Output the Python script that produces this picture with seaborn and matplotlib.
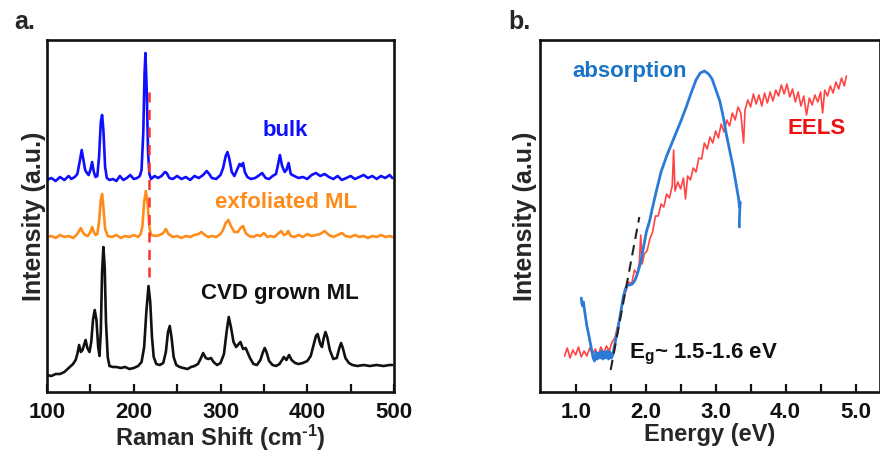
import matplotlib
matplotlib.use("Agg")
import matplotlib.pyplot as plt
import seaborn as sns

# Raman spectra (panel a), intensity in arbitrary units.
bulk_x = [100, 105, 110, 115, 120, 125, 128, 132, 135, 138, 140, 142, 144, 146, 148, 150, 152, 154, 156, 158,
          160, 162, 163.5, 165, 167, 169, 172, 176, 180, 184, 188, 192, 196, 200, 204, 207, 209, 211, 212.5, 213.5,
          215, 216.5, 218, 220, 224, 228, 232, 236, 238, 241, 245, 250, 255, 260, 265, 270, 275, 280, 284, 287,
          290, 295, 300, 303, 306, 308, 310, 313, 316, 319, 322, 324, 326, 328, 331, 335, 340, 345, 348, 352,
          356, 360, 364, 366, 368.5, 371, 374, 376, 378.5, 381, 385, 390, 395, 400, 405, 410, 415, 420, 425, 430,
          435, 440, 445, 450, 455, 460, 465, 470, 475, 480, 485, 490, 495, 498]
bulk_y = [212, 214, 211, 215, 212, 216, 213, 215, 218, 232, 242, 232, 222, 219, 217, 222, 230, 220, 215, 216,
          235, 270, 277, 262, 225, 214, 212, 213, 211, 216, 212, 214, 217, 213, 214, 216, 222, 260, 320, 339,
          300, 240, 218, 213, 216, 214, 216, 220, 219, 214, 213, 216, 213, 215, 212, 216, 214, 217, 221, 218,
          214, 213, 217, 224, 236, 240, 234, 220, 216, 222, 228, 226, 229, 220, 215, 213, 214, 217, 219, 214,
          213, 216, 218, 226, 237, 226, 220, 222, 229, 218, 216, 214, 215, 213, 217, 219, 216, 218, 215, 213,
          216, 212, 214, 216, 213, 215, 217, 214, 216, 213, 216, 214, 217, 214]

exf_x = [100, 105, 110, 115, 120, 125, 130, 134, 137, 139, 141, 144, 147, 150, 152, 154, 156, 158, 160, 162,
         163.5, 165, 167, 170, 175, 180, 185, 190, 195, 200, 205, 208, 210, 212, 214, 216, 218, 220, 225, 230,
         234, 237, 240, 245, 250, 255, 260, 265, 270, 275, 278, 282, 286, 290, 295, 300, 303, 306, 309, 312,
         316, 320, 323, 326, 329, 333, 338, 342, 346, 350, 354, 358, 362, 366, 370, 373, 376, 378, 381, 385,
         390, 395, 400, 405, 410, 415, 420, 425, 430, 435, 440, 444, 450, 455, 460, 465, 470, 475, 480, 485,
         490, 495, 498]
exf_y = [155, 156, 154, 157, 155, 156, 154, 157, 161, 164, 160, 157, 156, 160, 165, 160, 157, 158, 170, 192,
         198, 185, 163, 156, 155, 157, 154, 156, 155, 157, 155, 158, 166, 190, 201, 188, 165, 157, 156, 157,
         159, 163, 158, 155, 156, 154, 156, 155, 157, 158, 160, 157, 155, 156, 155, 158, 162, 169, 172, 166,
         160, 160, 164, 166, 159, 156, 155, 157, 156, 159, 155, 156, 155, 158, 161, 157, 158, 161, 156, 155,
         157, 155, 158, 156, 157, 158, 161, 157, 155, 157, 159, 156, 155, 157, 155, 156, 154, 156, 155, 157,
         155, 156, 155]

cvd_x = [100, 105, 110, 115, 120, 125, 130, 133, 135, 137, 139, 141, 143, 144.5, 146.5, 149, 151, 153, 155, 157,
         159, 160.5, 162, 163.5, 165, 166.5, 168, 170, 172, 176, 180, 185, 190, 195, 200, 205, 209, 212, 214.5,
         217, 219, 221, 223, 226, 230, 234, 237, 239.5, 241.5, 243.5, 246, 249, 253, 257, 262, 266, 270, 274,
         277, 280, 283, 286, 289, 292, 296, 300, 304, 307, 309.5, 312, 315, 318, 321, 323, 326, 329, 331, 334,
         338, 342, 346, 349, 351, 353, 356, 360, 364, 368, 371, 373, 376, 379, 382, 386, 390, 395, 400, 404,
         407, 410, 412, 415, 417, 419, 421, 423, 426, 430, 434, 437, 439, 441, 444, 448, 452, 458, 465, 472,
         480, 488, 495, 498]
cvd_y = [17, 16, 18, 18, 20, 24, 28, 32, 38, 47, 40, 42, 48, 52, 44, 40, 50, 72, 82, 72,
         45, 36, 60, 120, 145, 125, 70, 35, 26, 25, 25, 24, 25, 23, 24, 26, 30, 45, 80,
         106, 90, 55, 35, 28, 27, 29, 40, 60, 66, 55, 35, 27, 25, 24, 23, 25, 26, 28,
         33, 39, 34, 33, 34, 30, 27, 29, 38, 60, 75, 65, 50, 45, 48, 50, 43, 44, 40, 34,
         28, 27, 32, 40, 44, 40, 31, 27, 26, 28, 32, 35, 32, 37, 32, 29, 28, 29, 31, 36,
         46, 56, 58, 48, 45, 54, 60, 55, 42, 33, 34, 44, 49, 44, 34, 29, 27, 26, 27, 26,
         27, 26, 27, 27]

ag_shift = 218           # dashed marker position (cm-1)
ag_span = [115, 305]     # dashed marker vertical extent (a.u.)

# Absorption / EELS (panel b)
abs_x = [1.08, 1.09, 1.10, 1.11, 1.13, 1.16, 1.19, 1.22, 1.25, 1.27, 1.29, 1.31, 1.33, 1.35, 1.37, 1.39, 1.41,
         1.43, 1.45, 1.47, 1.49, 1.51, 1.53, 1.56, 1.60, 1.64, 1.68, 1.71, 1.74, 1.77, 1.81, 1.85, 1.89, 1.93,
         1.97, 2.01, 2.06, 2.10, 2.15, 2.22, 2.30, 2.37, 2.44, 2.51, 2.58, 2.65, 2.72, 2.78, 2.84, 2.90, 2.95,
         3.00, 3.06, 3.11, 3.15, 3.20, 3.25, 3.30, 3.33, 3.34, 3.35, 3.34, 3.34]
abs_y = [94, 88, 86, 90, 80, 66, 56, 45, 34, 31, 40, 33, 39, 34, 41, 33, 40, 34, 41, 33, 40, 34, 37, 48,
         62, 78, 95, 103, 107, 107, 108, 112, 120, 130, 145, 160, 172, 185, 200, 220, 236, 248, 260, 272,
         285, 299, 312, 319, 321, 318, 313, 303, 291, 275, 259, 242, 225, 205, 193, 185, 190, 172, 165]

eels_x = [0.84, 0.88, 0.92, 0.96, 1.00, 1.04, 1.08, 1.12, 1.16, 1.20, 1.24, 1.28, 1.32, 1.36, 1.40, 1.44, 1.48,
          1.52, 1.56, 1.60, 1.64, 1.68, 1.72, 1.76, 1.80, 1.84, 1.88, 1.91, 1.93, 1.95, 1.98, 2.02, 2.06, 2.10,
          2.14, 2.18, 2.22, 2.26, 2.30, 2.34, 2.38, 2.40, 2.42, 2.46, 2.50, 2.54, 2.57, 2.60, 2.64, 2.68, 2.72,
          2.76, 2.80, 2.84, 2.88, 2.92, 2.96, 3.00, 3.04, 3.08, 3.12, 3.16, 3.20, 3.24, 3.28, 3.32, 3.36, 3.40,
          3.42, 3.46, 3.50, 3.54, 3.58, 3.62, 3.66, 3.70, 3.74, 3.78, 3.82, 3.86, 3.90, 3.94, 3.98, 4.02, 4.06,
          4.10, 4.14, 4.18, 4.22, 4.26, 4.30, 4.34, 4.38, 4.42, 4.46, 4.50, 4.53, 4.56, 4.60, 4.64, 4.68, 4.72,
          4.76, 4.80, 4.84, 4.87]
eels_y = [36, 44, 34, 42, 37, 45, 35, 41, 36, 44, 38, 43, 36, 45, 39, 46, 41, 50, 54, 66, 76, 95, 101, 110,
          108, 122, 118, 130, 157, 128, 138, 141, 153, 160, 176, 176, 188, 185, 198, 194, 206, 242, 201, 210,
          203, 214, 193, 216, 212, 224, 220, 234, 233, 249, 243, 255, 249, 261, 254, 268, 260, 272, 266, 279,
          272, 285, 279, 249, 282, 292, 285, 298, 288, 297, 286, 299, 289, 300, 291, 302, 296, 307, 298, 308,
          295, 303, 290, 300, 286, 296, 277, 294, 287, 297, 290, 300, 279, 302, 296, 306, 299, 310, 303, 314,
          306, 316]

tangent_x = [1.50, 1.91]
tangent_y = [22, 175]

sns.set_theme(style="white")
plt.rcParams["font.family"] = ["Liberation Sans", "DejaVu Sans"]
plt.rcParams["font.weight"] = "bold"
plt.rcParams["mathtext.default"] = "regular"

fig = plt.figure(figsize=(8.8, 4.55), dpi=100)
ax1 = fig.add_axes([47 / 880, 1 - 392 / 455, 347 / 880, 352 / 455])
ax2 = fig.add_axes([540 / 880, 1 - 392 / 455, 340 / 880, 352 / 455])

# --- panel a
sns.lineplot(x=bulk_x, y=bulk_y, ax=ax1, color="#0f0fff", lw=1.9, sort=False, estimator=None)
sns.lineplot(x=exf_x, y=exf_y, ax=ax1, color="#ff8c1a", lw=1.9, sort=False, estimator=None)
sns.lineplot(x=cvd_x, y=cvd_y, ax=ax1, color="#111111", lw=1.9, sort=False, estimator=None)
ax1.plot([ag_shift, ag_shift], ag_span, color="#ff3030", lw=1.8, ls=(0, (4, 3)))

ax1.text(349, 262, "bulk", color="#0f0fff", fontsize=16, fontweight="bold", va="center")
ax1.text(294, 190, "exfoliated ML", color="#ff8c1a", fontsize=16, fontweight="bold", va="center")
ax1.text(278, 98, "CVD grown ML", color="#111111", fontsize=16, fontweight="bold", va="center")

ax1.set_xlim(100, 500)
ax1.set_ylim(0, 352)
ax1.set_xticks([100, 200, 300, 400, 500])
ax1.set_xticks([150, 250, 350, 450], minor=True)
ax1.set_yticks([])
ax1.set_xlabel("Raman Shift (cm$^{\u2010 1}$)", fontsize=17, fontweight="bold", labelpad=0)
ax1.set_ylabel("Intensity (a.u.)", fontsize=18, fontweight="bold", labelpad=1)

# --- panel b
sns.lineplot(x=eels_x, y=eels_y, ax=ax2, color="#ff4444", lw=1.2, sort=False, estimator=None)
sns.lineplot(x=abs_x, y=abs_y, ax=ax2, color="#2a7bd8", lw=2.0, sort=False, estimator=None)
ax2.plot(tangent_x, tangent_y, color="#222222", lw=1.5, ls=(0, (5, 3)))

ax2.text(0.95, 321, "absorption", color="#1a74c6", fontsize=16, fontweight="bold", va="center")
ax2.text(4.03, 264, "EELS", color="#ee1111", fontsize=16, fontweight="bold", va="center")
ax2.text(1.76, 38, "E$_g$~ 1.5-1.6 eV", color="#111111", fontsize=16, fontweight="bold", va="center")

ax2.set_xlim(0.49, 5.35)
ax2.set_ylim(0, 352)
ax2.set_xticks([1, 2, 3, 4, 5])
ax2.set_xticklabels(["1.0", "2.0", "3.0", "4.0", "5.0"])
ax2.set_xticks([1.5, 2.5, 3.5, 4.5], minor=True)
ax2.set_yticks([])
ax2.set_xlabel("Energy (eV)", fontsize=17, fontweight="bold", labelpad=0)
ax2.set_ylabel("Intensity (a.u.)", fontsize=18, fontweight="bold", labelpad=2)

for ax in (ax1, ax2):
    for sp in ax.spines.values():
        sp.set_linewidth(1.9)
        sp.set_color("#111111")
    ax.tick_params(axis="x", which="both", direction="in", length=6, width=1.6,
                   labelsize=16, pad=7, bottom=True, colors="#111111")
    for lab in ax.get_xticklabels():
        lab.set_fontweight("bold")

fig.text(14 / 880, 1 - 29 / 455, "a.", fontsize=18, fontweight="bold")
fig.text(508 / 880, 1 - 29 / 455, "b.", fontsize=18, fontweight="bold")

fig.savefig("out.png", dpi=100)
